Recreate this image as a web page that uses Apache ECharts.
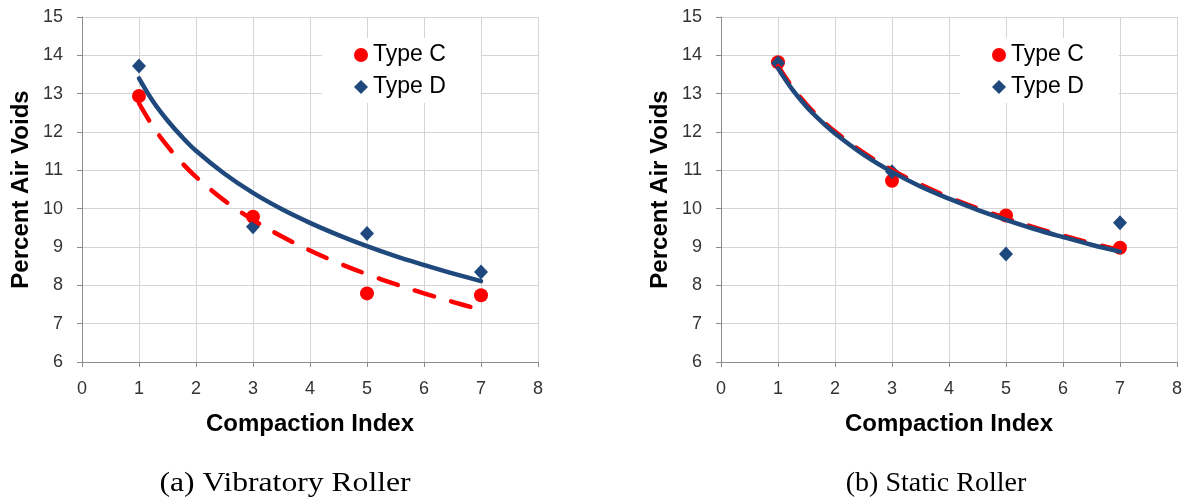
<!DOCTYPE html>
<html>
<head>
<meta charset="utf-8">
<script src="https://cdn.jsdelivr.net/npm/echarts@6/dist/echarts.min.js"></script>
<style>
html,body{margin:0;padding:0;background:#fff;}
#chart{width:1186px;height:500px;}
</style>
</head>
<body>
<div id="chart"></div>
<script>
// ---- data ----
const xRange = [0, 8];
const yRange = [6, 15];
const pointX = [1, 3, 5, 7];
// (a) Vibratory Roller
const vibTypeC = [12.94, 9.79, 7.79, 7.74];
const vibTypeD = [13.72, 9.53, 9.35, 8.35];
// (b) Static Roller
const staTypeC = [13.82, 10.73, 9.82, 8.98];
const staTypeD = [13.80, 10.96, 8.82, 9.63];
// trend lines
const trendX = [1, 1.25, 1.5, 1.75, 2, 2.5, 3, 3.5, 4, 4.5, 5, 5.5, 6, 6.5, 7];
const vibTrendC = [12.75, 12.13, 11.63, 11.20, 10.83, 10.21, 9.71, 9.28, 8.91, 8.58, 8.29, 8.03, 7.79, 7.57, 7.36];
const vibTrendD = [13.40, 12.79, 12.30, 11.88, 11.51, 10.91, 10.41, 9.99, 9.63, 9.31, 9.02, 8.76, 8.53, 8.31, 8.11];
const staTrendC = [13.72, 13.17, 12.72, 12.34, 12.01, 11.46, 11.01, 10.63, 10.30, 10.01, 9.75, 9.51, 9.30, 9.10, 8.92];
const staTrendD = [13.66, 13.11, 12.66, 12.29, 11.96, 11.41, 10.96, 10.58, 10.26, 9.97, 9.71, 9.47, 9.26, 9.06, 8.88];
const captions = ['(a) Vibratory Roller', '(b) Static Roller'];
const xTitle = 'Compaction Index';
const yTitle = 'Percent Air Voids';
const seriesNames = ['Type C', 'Type D'];

const RED = '#FF0000';
const BLUE = '#1F497D';
const FONT = "'Liberation Sans', Arial, sans-serif";
const SERIF = "28px 'Liberation Serif', 'Times New Roman', serif";

function zip(xs, ys) { return xs.map((x, i) => [x, ys[i]]); }

const grids = [
  { left: 82, top: 17, width: 456, height: 345 },
  { left: 721, top: 17, width: 456, height: 345 }
];

function xAxisFor(i) {
  return {
    type: 'value', gridIndex: i, min: xRange[0], max: xRange[1], interval: 1,
    name: xTitle, nameLocation: 'middle', nameGap: 50,
    nameTextStyle: { fontFamily: FONT, fontWeight: 'bold', fontSize: 24, color: '#000' },
    axisLine: { show: true, onZero: false, lineStyle: { color: '#8C8C8C', width: 1 } },
    axisTick: { show: true, length: 5, lineStyle: { color: '#8C8C8C' } },
    axisLabel: { margin: 18, fontFamily: FONT, fontSize: 18, color: '#333' },
    splitLine: { show: true, lineStyle: { color: '#D4D4D4', width: 1 } }
  };
}
function yAxisFor(i) {
  return {
    type: 'value', gridIndex: i, min: yRange[0], max: yRange[1], interval: 1,
    name: yTitle, nameLocation: 'middle', nameGap: 49,
    nameTextStyle: { fontFamily: FONT, fontWeight: 'bold', fontSize: 24, color: '#000' },
    axisLine: { show: true, onZero: false, lineStyle: { color: '#8C8C8C', width: 1 } },
    axisTick: { show: true, length: 5, lineStyle: { color: '#8C8C8C' } },
    axisLabel: { margin: 19, fontFamily: FONT, fontSize: 18, color: '#333' },
    splitLine: { show: true, lineStyle: { color: '#D4D4D4', width: 1 } }
  };
}

function legendFor(left) {
  return {
    left: left, top: 38, orient: 'vertical',
    backgroundColor: '#fff', borderWidth: 0,
    padding: [5, 35, 4, 32],
    itemWidth: 14, itemHeight: 14, itemGap: 8,
    textStyle: { fontFamily: FONT, fontSize: 23, color: '#000', lineHeight: 24 },
    selectedMode: false,
    data: [
      { name: seriesNames[0], icon: 'circle', itemStyle: { color: RED, opacity: 1 } },
      { name: seriesNames[1], icon: 'diamond', itemStyle: { color: BLUE, opacity: 1 } }
    ]
  };
}

function seriesFor(i, cPts, dPts, tC, tD) {
  return [
    { name: seriesNames[0], type: 'scatter', xAxisIndex: i, yAxisIndex: i,
      symbol: 'circle', symbolSize: 14, itemStyle: { color: RED, opacity: 1 },
      data: zip(pointX, cPts), z: 2 },
    { name: seriesNames[1], type: 'scatter', xAxisIndex: i, yAxisIndex: i,
      symbol: 'diamond', symbolSize: [14, 15], itemStyle: { color: BLUE, opacity: 1 },
      data: zip(pointX, dPts), z: 2 },
    { name: 'trend C', type: 'line', xAxisIndex: i, yAxisIndex: i, smooth: 0.35,
      showSymbol: false, symbol: 'none',
      lineStyle: { color: RED, width: 4.5, type: [20, 18], cap: 'round', join: 'round' },
      data: zip(trendX, tC), z: 3 },
    { name: 'trend D', type: 'line', xAxisIndex: i, yAxisIndex: i, smooth: 0.35,
      showSymbol: false, symbol: 'none',
      lineStyle: { color: BLUE, width: 4.5, cap: 'round', join: 'round' },
      data: zip(trendX, tD), z: 4 }
  ];
}

const chart = echarts.init(document.getElementById('chart'), null, { renderer: 'canvas' });
chart.setOption({
  backgroundColor: '#fff',
  animation: false,
  grid: grids,
  xAxis: [xAxisFor(0), xAxisFor(1)],
  yAxis: [yAxisFor(0), yAxisFor(1)],
  legend: [legendFor(322), legendFor(960)],
  series: [].concat(
    seriesFor(0, vibTypeC, vibTypeD, vibTrendC, vibTrendD),
    seriesFor(1, staTypeC, staTypeD, staTrendC, staTrendD)
  ),
  graphic: [
    { type: 'text', x: 285, y: 484, scaleX: 1.13, style: { text: captions[0], font: SERIF, fill: '#000', align: 'center', verticalAlign: 'middle' } },
    { type: 'text', x: 936, y: 484, style: { text: captions[1], font: SERIF, fill: '#000', align: 'center', verticalAlign: 'middle' } }
  ]
});
</script>
</body>
</html>
